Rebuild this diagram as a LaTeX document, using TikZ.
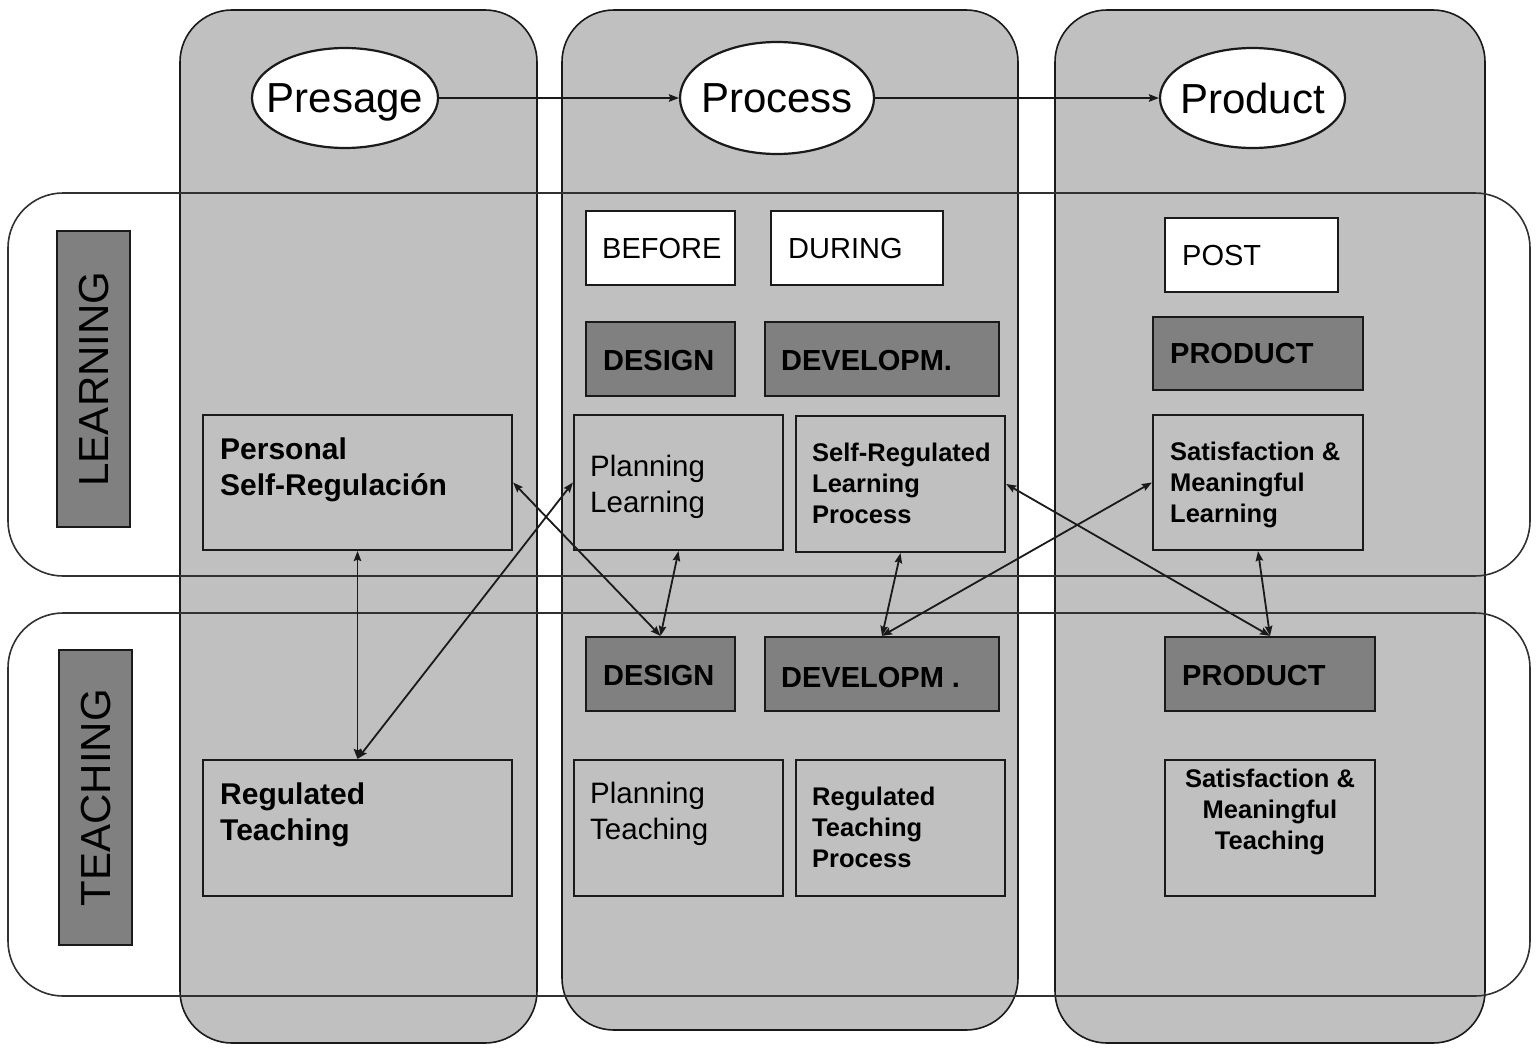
\documentclass[tikz,border=0pt]{standalone}
\usepackage{fontspec}
\setmainfont{Liberation Sans}
\usetikzlibrary{shapes.geometric,arrows.meta}
\definecolor{colgray}{HTML}{C0C0C0}
\definecolor{darkfill}{HTML}{808080}
\definecolor{ink}{HTML}{1A1A1A}
\begin{document}
\begin{tikzpicture}[x=1pt,y=-1pt,
  colbox/.style={draw=ink, line width=1.6pt, fill=colgray, rounded corners=52pt},
  band/.style={draw=ink!90, line width=1.6pt, rounded corners=55pt},
  rect/.style={draw=ink, line width=2.2pt, inner sep=0pt, rectangle},
  whitebox/.style={rect, fill=white},
  darkbox/.style={rect, fill=darkfill},
  plainbox/.style={rect},
  ell/.style={ellipse, draw=ink, line width=2.2pt, fill=white, inner sep=0pt},
  elltext/.style={inner sep=0pt, anchor=center, text depth=0pt,
    font=\fontsize{42}{48}\selectfont},
  txt/.style={inner sep=0pt, anchor=north west, align=left, text=black},
  rowlabel/.style={inner sep=0pt, anchor=center, rotate=90, text depth=0pt,
    font=\fontsize{42}{48}\selectfont},
  lab/.style={font=\fontsize{29}{34}\selectfont},
  labb/.style={font=\bfseries\fontsize{29}{34}\selectfont},
  big/.style={font=\bfseries\fontsize{30}{36}\selectfont},
  reg/.style={font=\fontsize{29.5}{36}\selectfont},
  small/.style={font=\bfseries\fontsize{25.5}{31}\selectfont},
  conn/.style={draw=ink, line width=1.8pt, {Stealth[length=10pt,width=7.5pt,inset=1.5pt]}-{Stealth[length=10pt,width=7.5pt,inset=1.5pt]}},
  oneway/.style={draw=ink, line width=1.8pt, -{Stealth[length=10pt,width=7.5pt,inset=1.5pt]}}
]
\useasboundingbox[fill=white] (0,0) rectangle (1538,1052);

% columns
\draw[colbox] (180,10) rectangle (537,1043);
\draw[colbox] (562,10) rectangle (1018,1030);
\draw[colbox] (1055,10) rectangle (1485,1043);

% row bands
\draw[band] (8,193) rectangle (1530,576);
\draw[band] (8,613) rectangle (1530,996);

% row labels
\node[darkbox, minimum width=73pt, minimum height=296pt] (learnL) at (93.5,379) {};
\node[rowlabel] (learnLT) at (learnL.center) {LEARNING};
\node[darkbox, minimum width=73pt, minimum height=295pt] (teachL) at (95.5,797.5) {};
\node[rowlabel] (teachLT) at (teachL.center) {TEACHING};

% ellipses
\node[ell, minimum width=186pt, minimum height=100pt] (pres) at (345,98) {};
\node[elltext] (presT) at (pres.center) {Presage};
\node[ell, minimum width=194pt, minimum height=112pt] (proc) at (777,98) {};
\node[elltext] (procT) at (proc.center) {Process};
\node[ell, minimum width=185pt, minimum height=100pt] (prod) at (1252.5,98) {};
\node[elltext] (prodT0) at (prod.center) {Product};

% learning row boxes
\node[whitebox, minimum width=149pt, minimum height=74pt] (before) at (660.5,248) {};
\node[txt, lab] (beforeT) at (602,238) {BEFORE};
\node[whitebox, minimum width=172pt, minimum height=74pt] (during) at (857,248) {};
\node[txt, lab] (duringT) at (788,238) {DURING};
\node[whitebox, minimum width=173pt, minimum height=74pt] (post) at (1251.5,255) {};
\node[txt, lab] (postT) at (1182,245) {POST};

\node[darkbox, minimum width=149pt, minimum height=74pt] (desL) at (660.5,359) {};
\node[txt, labb] (desLT) at (603,350) {DESIGN};
\node[darkbox, minimum width=234pt, minimum height=74pt] (devL) at (882,359) {};
\node[txt, labb] (devLT) at (781,350) {DEVELOPM.};
\node[darkbox, minimum width=210pt, minimum height=73pt] (prodL) at (1258,353.5) {};
\node[txt, labb] (prodLT) at (1170,343) {PRODUCT};

\node[plainbox, minimum width=309pt, minimum height=135pt] (pers) at (357.5,482.5) {};
\node[txt, big] (persT) at (220,438) {Personal\\Self-Regulación};
\node[plainbox, minimum width=209pt, minimum height=135pt] (planL) at (678.5,482.5) {};
\node[txt, reg] (planLT) at (590,455) {Planning\\Learning};
\node[plainbox, minimum width=209pt, minimum height=136pt] (srl) at (900.5,484) {};
\node[txt, small] (srlT) at (812,443) {Self-Regulated\\Learning\\Process};
\node[plainbox, minimum width=210pt, minimum height=135pt] (satL) at (1258,482.5) {};
\node[txt, small] (satLT) at (1170,442) {Satisfaction \&\\Meaningful\\Learning};

% teaching row boxes
\node[darkbox, minimum width=149pt, minimum height=74pt] (desT) at (660.5,674) {};
\node[txt, labb] (desTT) at (603,665) {DESIGN};
\node[darkbox, minimum width=234pt, minimum height=74pt] (devT) at (882,674) {};
\node[txt, labb] (devTT) at (781,667) {DEVELOPM .};
\node[darkbox, minimum width=210pt, minimum height=74pt] (prodT) at (1270,674) {};
\node[txt, labb] (prodTT) at (1182,665) {PRODUCT};

\node[plainbox, minimum width=309pt, minimum height=136pt] (regT) at (357.5,828) {};
\node[txt, big] (regTT) at (220,783) {Regulated\\Teaching};
\node[plainbox, minimum width=209pt, minimum height=136pt] (planT) at (678.5,828) {};
\node[txt, reg] (planTT) at (590,782) {Planning\\Teaching};
\node[plainbox, minimum width=209pt, minimum height=136pt] (rtp) at (900.5,828) {};
\node[txt, small] (rtpT) at (812,787) {Regulated\\Teaching\\Process};
\node[plainbox, minimum width=210pt, minimum height=136pt] (satT) at (1270,828) {};
\node[txt, small, anchor=north, align=center] (satTT) at (1270,769) {Satisfaction \&\\Meaningful\\Teaching};

% connectors
\draw[oneway] (pres.east) -- (proc.west);
\draw[oneway] (proc.east) -- (prod.west);
\draw[conn] (pers.south) -- (regT.north);
\draw[conn] (planL.west) -- (regT.north);
\draw[conn] (pers.east) -- (desT.north);
\draw[conn] (planL.south) -- (desT.north);
\draw[conn] (srl.south) -- (devT.north);
\draw[conn] (satL.west) -- (devT.north);
\draw[conn] (srl.east) -- (prodT.north);
\draw[conn] (satL.south) -- (prodT.north);
\end{tikzpicture}
\end{document}
